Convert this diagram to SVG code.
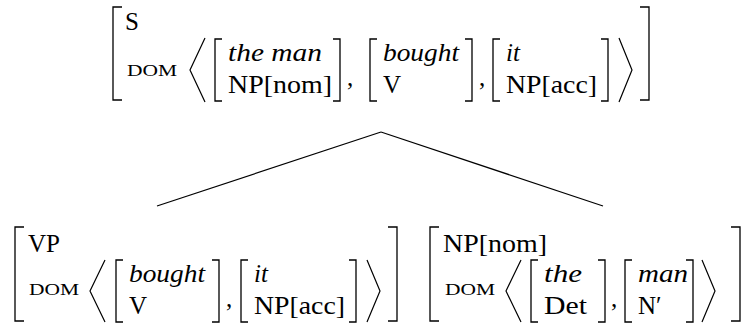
<svg xmlns="http://www.w3.org/2000/svg" width="746" height="329" viewBox="0 0 746 329">
<style>
text{font-family:"Liberation Serif","DejaVu Serif","Times New Roman",serif;font-size:25px;fill:#000}
.i{font-style:italic}
.sc{font-size:17px}
.d{fill:none;stroke:#000;stroke-width:1.3}
.e{fill:none;stroke:#000;stroke-width:1.2}
</style>
<rect width="746" height="329" fill="#fff"/>
<g id="edges">
<path class="e" d="M381,132 L157,206"/>
<path class="e" d="M381,132 L603,206"/>
</g>
<g id="node-S">
<path class="d" d="M122,7 H113 V100 H122"/>
<text x="125" y="30">S</text>
<text class="sc" x="127" y="76" textLength="50" lengthAdjust="spacingAndGlyphs">DOM</text>
<path class="e" d="M205,38 L190,70 L205,102"/>
<path class="d" d="M222,39 H215 V101 H222"/>
<text class="i" x="228" y="61" textLength="94" lengthAdjust="spacingAndGlyphs">the man</text>
<text x="228" y="93" textLength="104" lengthAdjust="spacingAndGlyphs">NP[nom]</text>
<path class="d" d="M333,39 H340 V101 H333"/>
<text x="347" y="86">,</text>
<path class="d" d="M377,39 H370 V101 H377"/>
<text class="i" x="383" y="61" textLength="76" lengthAdjust="spacingAndGlyphs">bought</text>
<text x="383" y="93">V</text>
<path class="d" d="M465,39 H472 V101 H465"/>
<text x="479" y="86">,</text>
<path class="d" d="M500,39 H493 V101 H500"/>
<text class="i" x="506" y="61">it</text>
<text x="506" y="93" textLength="91" lengthAdjust="spacingAndGlyphs">NP[acc]</text>
<path class="d" d="M601,39 H608 V101 H601"/>
<path class="e" d="M619,38 L632,70 L619,102"/>
<path class="d" d="M640,7 H649 V100 H640"/>
</g>
<g id="node-VP">
<path class="d" d="M24,227 H15 V321 H24"/>
<text x="28" y="252">VP</text>
<text class="sc" x="29" y="295" textLength="50" lengthAdjust="spacingAndGlyphs">DOM</text>
<path class="e" d="M105,260 L90,291 L105,322"/>
<path class="d" d="M123,260 H116 V322 H123"/>
<text class="i" x="129" y="282" textLength="76" lengthAdjust="spacingAndGlyphs">bought</text>
<text x="129" y="314">V</text>
<path class="d" d="M212,260 H219 V322 H212"/>
<text x="226" y="307">,</text>
<path class="d" d="M248,260 H241 V322 H248"/>
<text class="i" x="254" y="282">it</text>
<text x="254" y="314" textLength="91" lengthAdjust="spacingAndGlyphs">NP[acc]</text>
<path class="d" d="M349,260 H356 V322 H349"/>
<path class="e" d="M367,260 L380,291 L367,322"/>
<path class="d" d="M388,227 H397 V321 H388"/>
</g>
<g id="node-NP">
<path class="d" d="M439,227 H430 V321 H439"/>
<text x="443" y="252" textLength="104" lengthAdjust="spacingAndGlyphs">NP[nom]</text>
<text class="sc" x="445" y="295" textLength="50" lengthAdjust="spacingAndGlyphs">DOM</text>
<path class="e" d="M521,260 L506,291 L521,322"/>
<path class="d" d="M538,260 H531 V322 H538"/>
<text class="i" x="544" y="282" textLength="38" lengthAdjust="spacingAndGlyphs">the</text>
<text x="544" y="314" textLength="43" lengthAdjust="spacingAndGlyphs">Det</text>
<path class="d" d="M598,260 H605 V322 H598"/>
<text x="611" y="307">,</text>
<path class="d" d="M632,260 H625 V322 H632"/>
<text class="i" x="638" y="282" textLength="50" lengthAdjust="spacingAndGlyphs">man</text>
<text x="638" y="314">N′</text>
<path class="d" d="M686,260 H693 V322 H686"/>
<path class="e" d="M702,260 L715,291 L702,322"/>
<path class="d" d="M731,227 H740 V321 H731"/>
</g>
</svg>
